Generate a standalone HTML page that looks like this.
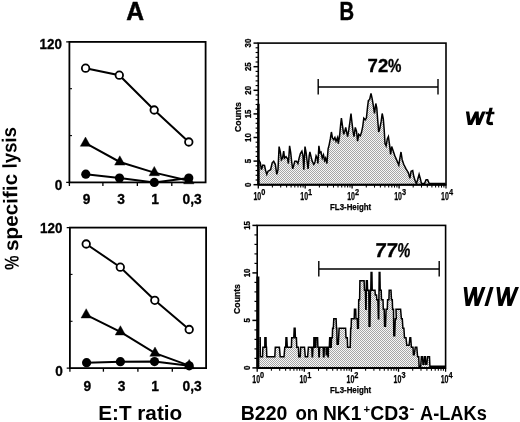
<!DOCTYPE html>
<html><head><meta charset="utf-8"><title>Figure</title>
<style>html,body{margin:0;padding:0;background:#fff;}svg{display:block;will-change:transform;}text{font-family:"Liberation Sans",sans-serif;fill:#000;}.b{font-weight:bold;}</style></head><body>
<svg width="520" height="422" viewBox="0 0 520 422">
<defs><pattern id="dots" x="0" y="0" width="2" height="2" patternUnits="userSpaceOnUse"><rect width="2" height="2" fill="#f8f8f8"/><rect x="0" y="0" width="1" height="1" fill="#a6a6a6"/><rect x="1" y="1" width="1" height="1" fill="#a6a6a6"/></pattern></defs>
<rect width="520" height="422" fill="#fff"/>
<text class="b" x="126.2" y="19.5" font-size="26" textLength="17.8" lengthAdjust="spacingAndGlyphs" stroke="#000" stroke-width="0.5">A</text>
<text class="b" x="339.4" y="19.5" font-size="26" textLength="14.6" lengthAdjust="spacingAndGlyphs" stroke="#000" stroke-width="0.5">B</text>
<text class="b" transform="translate(18.7,269.8) rotate(-91.1)" font-size="20" textLength="14.4" lengthAdjust="spacingAndGlyphs">%</text>
<text class="b" transform="translate(18.3,251.1) rotate(-91.1)" font-size="20" textLength="77.4" lengthAdjust="spacingAndGlyphs">specific</text>
<text class="b" transform="translate(16.7,168.2) rotate(-91.1)" font-size="20" textLength="41.2" lengthAdjust="spacingAndGlyphs">lysis</text>
<rect x="69.4" y="41.9" width="136.2" height="140.5" fill="none" stroke="#000" stroke-width="1.8"/>
<path d="M66.2,41.9 H69.4 M66.2,182.4 H69.4" stroke="#000" stroke-width="1.3"/>
<line x1="69.4" y1="88.7" x2="72.0" y2="88.7" stroke="#000" stroke-width="1.1"/>
<line x1="69.4" y1="135.6" x2="72.0" y2="135.6" stroke="#000" stroke-width="1.1"/>
<line x1="69.4" y1="182.4" x2="69.4" y2="186.0" stroke="#000" stroke-width="1.3"/>
<line x1="102.9" y1="182.4" x2="102.9" y2="186.0" stroke="#000" stroke-width="1.3"/>
<line x1="137.35" y1="182.4" x2="137.35" y2="186.0" stroke="#000" stroke-width="1.3"/>
<line x1="171.8" y1="182.4" x2="171.8" y2="186.0" stroke="#000" stroke-width="1.3"/>
<path d="M85.6,68.2 L119.3,75.2 L154.2,110.0 L188.8,142.0" fill="none" stroke="#000" stroke-width="2"/>
<path d="M85.5,143.2 L119.8,162.0 L154.3,172.6 L188.8,180.7" fill="none" stroke="#000" stroke-width="2"/>
<path d="M85.8,174.2 L119.5,178.0 L154.3,182.4 L188.8,178.0" fill="none" stroke="#000" stroke-width="2"/>
<path d="M85.5,137.0 L90.7,146.3 L80.3,146.3 Z" fill="#000" stroke="#000" stroke-width="0.4" stroke-linejoin="round"/>
<path d="M119.8,155.8 L125.0,165.1 L114.6,165.1 Z" fill="#000" stroke="#000" stroke-width="0.4" stroke-linejoin="round"/>
<path d="M154.3,166.4 L159.5,175.7 L149.1,175.7 Z" fill="#000" stroke="#000" stroke-width="0.4" stroke-linejoin="round"/>
<path d="M188.8,174.5 L194.0,183.8 L183.6,183.8 Z" fill="#000" stroke="#000" stroke-width="0.4" stroke-linejoin="round"/>
<circle cx="85.8" cy="174.2" r="4.6" fill="#000"/>
<circle cx="119.5" cy="178.0" r="4.6" fill="#000"/>
<circle cx="154.3" cy="182.4" r="4.6" fill="#000"/>
<circle cx="188.8" cy="178.0" r="4.6" fill="#000"/>
<circle cx="85.6" cy="68.2" r="3.75" fill="#fff" stroke="#000" stroke-width="1.8"/>
<circle cx="119.3" cy="75.2" r="3.75" fill="#fff" stroke="#000" stroke-width="1.8"/>
<circle cx="154.2" cy="110.0" r="3.75" fill="#fff" stroke="#000" stroke-width="1.8"/>
<circle cx="188.8" cy="142.0" r="3.75" fill="#fff" stroke="#000" stroke-width="1.8"/>
<text class="b" x="61.9" y="48.5" font-size="14.4" text-anchor="end" textLength="22.4" lengthAdjust="spacingAndGlyphs" stroke="#000" stroke-width="0.3">120</text>
<text class="b" x="62.3" y="190.2" font-size="14.4" text-anchor="end" textLength="7.6" lengthAdjust="spacingAndGlyphs" stroke="#000" stroke-width="0.3">0</text>
<text class="b" x="86.7" y="204.4" font-size="13.8" text-anchor="middle" stroke="#000" stroke-width="0.3">9</text>
<text class="b" x="121.2" y="204.4" font-size="13.8" text-anchor="middle" stroke="#000" stroke-width="0.3">3</text>
<text class="b" x="155.0" y="204.4" font-size="13.8" text-anchor="middle" stroke="#000" stroke-width="0.3">1</text>
<text class="b" x="192.1" y="204.4" font-size="13.8" text-anchor="middle" stroke="#000" stroke-width="0.3">0,3</text>
<rect x="69.9" y="227.6" width="136.2" height="140.50000000000003" fill="none" stroke="#000" stroke-width="1.8"/>
<path d="M66.7,227.6 H69.9 M66.7,368.1 H69.9" stroke="#000" stroke-width="1.3"/>
<line x1="69.9" y1="274.4" x2="72.5" y2="274.4" stroke="#000" stroke-width="1.1"/>
<line x1="69.9" y1="321.3" x2="72.5" y2="321.3" stroke="#000" stroke-width="1.1"/>
<line x1="69.9" y1="368.1" x2="69.9" y2="371.70000000000005" stroke="#000" stroke-width="1.3"/>
<line x1="103.4" y1="368.1" x2="103.4" y2="371.70000000000005" stroke="#000" stroke-width="1.3"/>
<line x1="137.9" y1="368.1" x2="137.9" y2="371.70000000000005" stroke="#000" stroke-width="1.3"/>
<line x1="172.3" y1="368.1" x2="172.3" y2="371.70000000000005" stroke="#000" stroke-width="1.3"/>
<path d="M86.2,244.0 L120.3,267.2 L154.8,300.3 L189.2,329.5" fill="none" stroke="#000" stroke-width="2"/>
<path d="M86.2,314.9 L120.4,331.9 L155.0,353.2 L189.2,365.6" fill="none" stroke="#000" stroke-width="2"/>
<path d="M86.6,362.7 L120.4,361.7 L154.5,361.6 L189.2,365.8" fill="none" stroke="#000" stroke-width="2"/>
<path d="M86.2,308.7 L91.4,318.0 L81.0,318.0 Z" fill="#000" stroke="#000" stroke-width="0.4" stroke-linejoin="round"/>
<path d="M120.4,325.7 L125.6,335.0 L115.2,335.0 Z" fill="#000" stroke="#000" stroke-width="0.4" stroke-linejoin="round"/>
<path d="M155.0,347.0 L160.2,356.3 L149.8,356.3 Z" fill="#000" stroke="#000" stroke-width="0.4" stroke-linejoin="round"/>
<path d="M189.2,359.4 L194.4,368.7 L184.0,368.7 Z" fill="#000" stroke="#000" stroke-width="0.4" stroke-linejoin="round"/>
<circle cx="86.6" cy="362.7" r="4.6" fill="#000"/>
<circle cx="120.4" cy="361.7" r="4.6" fill="#000"/>
<circle cx="154.5" cy="361.6" r="4.6" fill="#000"/>
<circle cx="189.2" cy="365.8" r="4.6" fill="#000"/>
<circle cx="86.2" cy="244.0" r="3.75" fill="#fff" stroke="#000" stroke-width="1.8"/>
<circle cx="120.3" cy="267.2" r="3.75" fill="#fff" stroke="#000" stroke-width="1.8"/>
<circle cx="154.8" cy="300.3" r="3.75" fill="#fff" stroke="#000" stroke-width="1.8"/>
<circle cx="189.2" cy="329.5" r="3.75" fill="#fff" stroke="#000" stroke-width="1.8"/>
<text class="b" x="62.5" y="233.3" font-size="14.4" text-anchor="end" textLength="22.4" lengthAdjust="spacingAndGlyphs" stroke="#000" stroke-width="0.3">120</text>
<text class="b" x="62.9" y="375.9" font-size="14.4" text-anchor="end" textLength="7.6" lengthAdjust="spacingAndGlyphs" stroke="#000" stroke-width="0.3">0</text>
<text class="b" x="87.3" y="390.6" font-size="13.8" text-anchor="middle" stroke="#000" stroke-width="0.3">9</text>
<text class="b" x="121.6" y="390.6" font-size="13.8" text-anchor="middle" stroke="#000" stroke-width="0.3">3</text>
<text class="b" x="155.2" y="390.6" font-size="13.8" text-anchor="middle" stroke="#000" stroke-width="0.3">1</text>
<text class="b" x="192.2" y="390.6" font-size="13.8" text-anchor="middle" stroke="#000" stroke-width="0.3">0,3</text>
<text class="b" x="98.2" y="420" font-size="20.2" textLength="84" lengthAdjust="spacingAndGlyphs">E:T ratio</text>
<path d="M259.0,160.4 L259.1,160.4 L260.3,162.8 L261.4,169.7 L262.9,165.1 L264.5,165.4 L265.6,170.5 L266.8,174.3 L268.0,171.2 L270.6,169.7 L272.2,162.8 L273.7,161.2 L275.3,164.3 L276.8,174.3 L278.0,169.7 L279.1,146.6 L280.3,152.0 L281.4,159.7 L282.5,158.1 L283.7,151.2 L284.5,158.1 L286.0,156.6 L287.6,158.9 L288.4,163.5 L289.6,145.8 L290.7,152.7 L291.7,162.0 L292.7,168.9 L293.8,165.1 L294.8,161.2 L296.4,161.2 L297.9,163.5 L299.1,158.1 L300.4,153.5 L301.9,151.2 L303.0,155.8 L303.8,169.7 L305.0,146.6 L306.1,152.7 L307.2,162.0 L308.1,168.9 L309.2,155.8 L309.9,152.0 L311.2,157.4 L312.2,161.2 L313.8,164.3 L315.0,162.0 L316.1,155.8 L317.3,158.1 L317.9,163.5 L318.9,145.8 L319.9,152.7 L321.0,152.0 L322.3,158.1 L323.5,155.0 L324.6,160.4 L325.6,158.1 L326.9,163.5 L328.1,148.9 L329.1,145.1 L330.3,138.9 L331.4,132.0 L332.5,138.2 L333.7,139.7 L334.9,137.4 L336.0,141.2 L337.6,137.4 L338.3,143.6 L339.6,135.8 L340.6,125.1 L341.4,118.1 L342.6,126.6 L343.7,134.3 L344.8,131.2 L345.7,127.4 L346.8,132.8 L347.6,136.6 L348.8,129.7 L349.9,122.0 L351.0,113.5 L351.9,122.0 L353.0,131.2 L354.0,136.6 L355.3,127.4 L356.5,131.2 L357.6,141.2 L358.7,134.3 L360.2,135.8 L361.4,132.8 L362.7,126.6 L363.8,118.1 L365.3,119.7 L366.4,118.1 L367.6,106.6 L368.4,100.4 L369.6,99.6 L371.0,93.5 L372.2,98.9 L373.5,106.6 L374.5,113.5 L375.8,103.5 L376.8,108.1 L377.6,118.9 L378.7,132.0 L379.9,128.1 L381.2,121.2 L382.2,113.5 L383.3,118.9 L384.2,129.7 L385.0,143.6 L386.1,145.9 L387.3,138.9 L388.4,136.6 L389.6,145.0 L390.6,154.3 L391.7,146.6 L393.3,151.2 L394.8,155.8 L396.8,160.4 L398.8,165.1 L399.9,158.1 L401.0,152.0 L402.2,159.7 L403.7,164.3 L406.0,168.9 L408.4,172.8 L409.9,178.2 L411.1,171.2 L412.7,170.5 L413.8,176.6 L415.3,181.2 L416.4,183.6 L417.6,179.7 L419.1,174.3 L420.4,178.9 L421.5,183.6 L424.5,183.6 L426.1,179.7 L427.6,179.7 L429.2,183.6 L431.0,183.6 L445.5,183.6 L445.5,184.7 L259.0,184.7 Z" fill="url(#dots)" stroke="none"/>
<path d="M259.0,160.4 L259.1,160.4 L260.3,162.8 L261.4,169.7 L262.9,165.1 L264.5,165.4 L265.6,170.5 L266.8,174.3 L268.0,171.2 L270.6,169.7 L272.2,162.8 L273.7,161.2 L275.3,164.3 L276.8,174.3 L278.0,169.7 L279.1,146.6 L280.3,152.0 L281.4,159.7 L282.5,158.1 L283.7,151.2 L284.5,158.1 L286.0,156.6 L287.6,158.9 L288.4,163.5 L289.6,145.8 L290.7,152.7 L291.7,162.0 L292.7,168.9 L293.8,165.1 L294.8,161.2 L296.4,161.2 L297.9,163.5 L299.1,158.1 L300.4,153.5 L301.9,151.2 L303.0,155.8 L303.8,169.7 L305.0,146.6 L306.1,152.7 L307.2,162.0 L308.1,168.9 L309.2,155.8 L309.9,152.0 L311.2,157.4 L312.2,161.2 L313.8,164.3 L315.0,162.0 L316.1,155.8 L317.3,158.1 L317.9,163.5 L318.9,145.8 L319.9,152.7 L321.0,152.0 L322.3,158.1 L323.5,155.0 L324.6,160.4 L325.6,158.1 L326.9,163.5 L328.1,148.9 L329.1,145.1 L330.3,138.9 L331.4,132.0 L332.5,138.2 L333.7,139.7 L334.9,137.4 L336.0,141.2 L337.6,137.4 L338.3,143.6 L339.6,135.8 L340.6,125.1 L341.4,118.1 L342.6,126.6 L343.7,134.3 L344.8,131.2 L345.7,127.4 L346.8,132.8 L347.6,136.6 L348.8,129.7 L349.9,122.0 L351.0,113.5 L351.9,122.0 L353.0,131.2 L354.0,136.6 L355.3,127.4 L356.5,131.2 L357.6,141.2 L358.7,134.3 L360.2,135.8 L361.4,132.8 L362.7,126.6 L363.8,118.1 L365.3,119.7 L366.4,118.1 L367.6,106.6 L368.4,100.4 L369.6,99.6 L371.0,93.5 L372.2,98.9 L373.5,106.6 L374.5,113.5 L375.8,103.5 L376.8,108.1 L377.6,118.9 L378.7,132.0 L379.9,128.1 L381.2,121.2 L382.2,113.5 L383.3,118.9 L384.2,129.7 L385.0,143.6 L386.1,145.9 L387.3,138.9 L388.4,136.6 L389.6,145.0 L390.6,154.3 L391.7,146.6 L393.3,151.2 L394.8,155.8 L396.8,160.4 L398.8,165.1 L399.9,158.1 L401.0,152.0 L402.2,159.7 L403.7,164.3 L406.0,168.9 L408.4,172.8 L409.9,178.2 L411.1,171.2 L412.7,170.5 L413.8,176.6 L415.3,181.2 L416.4,183.6 L417.6,179.7 L419.1,174.3 L420.4,178.9 L421.5,183.6 L424.5,183.6 L426.1,179.7 L427.6,179.7 L429.2,183.6 L431.0,183.6 L445.5,183.6" fill="none" stroke="#000" stroke-width="1.5" stroke-linejoin="miter"/>
<rect x="258.3" y="43.1" width="187.7" height="141.6" fill="none" stroke="#000" stroke-width="1.6"/>
<line x1="258.4" y1="103.8" x2="258.4" y2="184.7" stroke="#000" stroke-width="2.5"/>
<line x1="258.3" y1="184.85" x2="446.0" y2="184.85" stroke="#000" stroke-width="2.0"/>
<line x1="253.5" y1="184.7" x2="258.3" y2="184.7" stroke="#000" stroke-width="1.5"/>
<text transform="translate(251.3,184.7) rotate(-90)" font-size="9.6" text-anchor="middle" font-weight="bold" textLength="4.4" lengthAdjust="spacingAndGlyphs" stroke="#000" stroke-width="0.3">0</text>
<line x1="255.6" y1="180.0" x2="258.3" y2="180.0" stroke="#000" stroke-width="1.15"/>
<line x1="255.6" y1="175.3" x2="258.3" y2="175.3" stroke="#000" stroke-width="1.15"/>
<line x1="255.6" y1="170.5" x2="258.3" y2="170.5" stroke="#000" stroke-width="1.15"/>
<line x1="255.6" y1="165.8" x2="258.3" y2="165.8" stroke="#000" stroke-width="1.15"/>
<line x1="253.5" y1="161.1" x2="258.3" y2="161.1" stroke="#000" stroke-width="1.5"/>
<text transform="translate(251.3,161.1) rotate(-90)" font-size="9.6" text-anchor="middle" font-weight="bold" textLength="4.4" lengthAdjust="spacingAndGlyphs" stroke="#000" stroke-width="0.3">5</text>
<line x1="255.6" y1="156.4" x2="258.3" y2="156.4" stroke="#000" stroke-width="1.15"/>
<line x1="255.6" y1="151.7" x2="258.3" y2="151.7" stroke="#000" stroke-width="1.15"/>
<line x1="255.6" y1="146.9" x2="258.3" y2="146.9" stroke="#000" stroke-width="1.15"/>
<line x1="255.6" y1="142.2" x2="258.3" y2="142.2" stroke="#000" stroke-width="1.15"/>
<line x1="253.5" y1="137.5" x2="258.3" y2="137.5" stroke="#000" stroke-width="1.5"/>
<text transform="translate(251.3,137.5) rotate(-90)" font-size="9.6" text-anchor="middle" font-weight="bold" textLength="8.8" lengthAdjust="spacingAndGlyphs" stroke="#000" stroke-width="0.3">10</text>
<line x1="255.6" y1="132.8" x2="258.3" y2="132.8" stroke="#000" stroke-width="1.15"/>
<line x1="255.6" y1="128.1" x2="258.3" y2="128.1" stroke="#000" stroke-width="1.15"/>
<line x1="255.6" y1="123.3" x2="258.3" y2="123.3" stroke="#000" stroke-width="1.15"/>
<line x1="255.6" y1="118.6" x2="258.3" y2="118.6" stroke="#000" stroke-width="1.15"/>
<line x1="253.5" y1="113.9" x2="258.3" y2="113.9" stroke="#000" stroke-width="1.5"/>
<text transform="translate(251.3,113.9) rotate(-90)" font-size="9.6" text-anchor="middle" font-weight="bold" textLength="8.8" lengthAdjust="spacingAndGlyphs" stroke="#000" stroke-width="0.3">15</text>
<line x1="255.6" y1="109.2" x2="258.3" y2="109.2" stroke="#000" stroke-width="1.15"/>
<line x1="255.6" y1="104.5" x2="258.3" y2="104.5" stroke="#000" stroke-width="1.15"/>
<line x1="255.6" y1="99.7" x2="258.3" y2="99.7" stroke="#000" stroke-width="1.15"/>
<line x1="255.6" y1="95.0" x2="258.3" y2="95.0" stroke="#000" stroke-width="1.15"/>
<line x1="253.5" y1="90.3" x2="258.3" y2="90.3" stroke="#000" stroke-width="1.5"/>
<text transform="translate(251.3,90.3) rotate(-90)" font-size="9.6" text-anchor="middle" font-weight="bold" textLength="8.8" lengthAdjust="spacingAndGlyphs" stroke="#000" stroke-width="0.3">20</text>
<line x1="255.6" y1="85.6" x2="258.3" y2="85.6" stroke="#000" stroke-width="1.15"/>
<line x1="255.6" y1="80.9" x2="258.3" y2="80.9" stroke="#000" stroke-width="1.15"/>
<line x1="255.6" y1="76.1" x2="258.3" y2="76.1" stroke="#000" stroke-width="1.15"/>
<line x1="255.6" y1="71.4" x2="258.3" y2="71.4" stroke="#000" stroke-width="1.15"/>
<line x1="253.5" y1="66.7" x2="258.3" y2="66.7" stroke="#000" stroke-width="1.5"/>
<text transform="translate(251.3,66.7) rotate(-90)" font-size="9.6" text-anchor="middle" font-weight="bold" textLength="8.8" lengthAdjust="spacingAndGlyphs" stroke="#000" stroke-width="0.3">25</text>
<line x1="255.6" y1="62.0" x2="258.3" y2="62.0" stroke="#000" stroke-width="1.15"/>
<line x1="255.6" y1="57.3" x2="258.3" y2="57.3" stroke="#000" stroke-width="1.15"/>
<line x1="255.6" y1="52.5" x2="258.3" y2="52.5" stroke="#000" stroke-width="1.15"/>
<line x1="255.6" y1="47.8" x2="258.3" y2="47.8" stroke="#000" stroke-width="1.15"/>
<line x1="253.5" y1="43.1" x2="258.3" y2="43.1" stroke="#000" stroke-width="1.5"/>
<text transform="translate(251.3,43.1) rotate(-90)" font-size="9.6" text-anchor="middle" font-weight="bold" textLength="8.8" lengthAdjust="spacingAndGlyphs" stroke="#000" stroke-width="0.3">30</text>
<text transform="translate(240.9,117.0) rotate(-90)" font-size="9.4" text-anchor="middle" font-weight="bold" textLength="29.8" lengthAdjust="spacingAndGlyphs" stroke="#000" stroke-width="0.25">Counts</text>
<line x1="258.3" y1="184.7" x2="258.3" y2="188.6" stroke="#000" stroke-width="1.3"/>
<line x1="272.4" y1="184.7" x2="272.4" y2="187.6" stroke="#000" stroke-width="1.05"/>
<line x1="280.7" y1="184.7" x2="280.7" y2="187.6" stroke="#000" stroke-width="1.05"/>
<line x1="286.6" y1="184.7" x2="286.6" y2="187.6" stroke="#000" stroke-width="1.05"/>
<line x1="291.1" y1="184.7" x2="291.1" y2="187.6" stroke="#000" stroke-width="1.05"/>
<line x1="294.8" y1="184.7" x2="294.8" y2="187.6" stroke="#000" stroke-width="1.05"/>
<line x1="298.0" y1="184.7" x2="298.0" y2="187.6" stroke="#000" stroke-width="1.05"/>
<line x1="300.7" y1="184.7" x2="300.7" y2="187.6" stroke="#000" stroke-width="1.05"/>
<line x1="303.1" y1="184.7" x2="303.1" y2="187.6" stroke="#000" stroke-width="1.05"/>
<line x1="305.2" y1="184.7" x2="305.2" y2="188.6" stroke="#000" stroke-width="1.3"/>
<line x1="319.4" y1="184.7" x2="319.4" y2="187.6" stroke="#000" stroke-width="1.05"/>
<line x1="327.6" y1="184.7" x2="327.6" y2="187.6" stroke="#000" stroke-width="1.05"/>
<line x1="333.5" y1="184.7" x2="333.5" y2="187.6" stroke="#000" stroke-width="1.05"/>
<line x1="338.0" y1="184.7" x2="338.0" y2="187.6" stroke="#000" stroke-width="1.05"/>
<line x1="341.7" y1="184.7" x2="341.7" y2="187.6" stroke="#000" stroke-width="1.05"/>
<line x1="344.9" y1="184.7" x2="344.9" y2="187.6" stroke="#000" stroke-width="1.05"/>
<line x1="347.6" y1="184.7" x2="347.6" y2="187.6" stroke="#000" stroke-width="1.05"/>
<line x1="350.0" y1="184.7" x2="350.0" y2="187.6" stroke="#000" stroke-width="1.05"/>
<line x1="352.1" y1="184.7" x2="352.1" y2="188.6" stroke="#000" stroke-width="1.3"/>
<line x1="366.3" y1="184.7" x2="366.3" y2="187.6" stroke="#000" stroke-width="1.05"/>
<line x1="374.5" y1="184.7" x2="374.5" y2="187.6" stroke="#000" stroke-width="1.05"/>
<line x1="380.4" y1="184.7" x2="380.4" y2="187.6" stroke="#000" stroke-width="1.05"/>
<line x1="384.9" y1="184.7" x2="384.9" y2="187.6" stroke="#000" stroke-width="1.05"/>
<line x1="388.7" y1="184.7" x2="388.7" y2="187.6" stroke="#000" stroke-width="1.05"/>
<line x1="391.8" y1="184.7" x2="391.8" y2="187.6" stroke="#000" stroke-width="1.05"/>
<line x1="394.5" y1="184.7" x2="394.5" y2="187.6" stroke="#000" stroke-width="1.05"/>
<line x1="396.9" y1="184.7" x2="396.9" y2="187.6" stroke="#000" stroke-width="1.05"/>
<line x1="399.1" y1="184.7" x2="399.1" y2="188.6" stroke="#000" stroke-width="1.3"/>
<line x1="413.2" y1="184.7" x2="413.2" y2="187.6" stroke="#000" stroke-width="1.05"/>
<line x1="421.5" y1="184.7" x2="421.5" y2="187.6" stroke="#000" stroke-width="1.05"/>
<line x1="427.3" y1="184.7" x2="427.3" y2="187.6" stroke="#000" stroke-width="1.05"/>
<line x1="431.9" y1="184.7" x2="431.9" y2="187.6" stroke="#000" stroke-width="1.05"/>
<line x1="435.6" y1="184.7" x2="435.6" y2="187.6" stroke="#000" stroke-width="1.05"/>
<line x1="438.7" y1="184.7" x2="438.7" y2="187.6" stroke="#000" stroke-width="1.05"/>
<line x1="441.5" y1="184.7" x2="441.5" y2="187.6" stroke="#000" stroke-width="1.05"/>
<line x1="443.9" y1="184.7" x2="443.9" y2="187.6" stroke="#000" stroke-width="1.05"/>
<line x1="446.0" y1="184.7" x2="446.0" y2="188.5" stroke="#000" stroke-width="1.2"/>
<text x="253.4" y="199.9" font-size="10.6" font-weight="bold" textLength="7.8" lengthAdjust="spacingAndGlyphs" stroke="#000" stroke-width="0.25">10</text>
<text x="261.2" y="194.6" font-size="8.6" font-weight="bold" textLength="4.1" lengthAdjust="spacingAndGlyphs" stroke="#000" stroke-width="0.25">0</text>
<text x="300.3" y="199.9" font-size="10.6" font-weight="bold" textLength="7.8" lengthAdjust="spacingAndGlyphs" stroke="#000" stroke-width="0.25">10</text>
<text x="308.1" y="194.6" font-size="8.6" font-weight="bold" textLength="4.1" lengthAdjust="spacingAndGlyphs" stroke="#000" stroke-width="0.25">1</text>
<text x="347.2" y="199.9" font-size="10.6" font-weight="bold" textLength="7.8" lengthAdjust="spacingAndGlyphs" stroke="#000" stroke-width="0.25">10</text>
<text x="355.0" y="194.6" font-size="8.6" font-weight="bold" textLength="4.1" lengthAdjust="spacingAndGlyphs" stroke="#000" stroke-width="0.25">2</text>
<text x="394.2" y="199.9" font-size="10.6" font-weight="bold" textLength="7.8" lengthAdjust="spacingAndGlyphs" stroke="#000" stroke-width="0.25">10</text>
<text x="402.0" y="194.6" font-size="8.6" font-weight="bold" textLength="4.1" lengthAdjust="spacingAndGlyphs" stroke="#000" stroke-width="0.25">3</text>
<text x="441.1" y="199.9" font-size="10.6" font-weight="bold" textLength="7.8" lengthAdjust="spacingAndGlyphs" stroke="#000" stroke-width="0.25">10</text>
<text x="448.9" y="194.6" font-size="8.6" font-weight="bold" textLength="4.1" lengthAdjust="spacingAndGlyphs" stroke="#000" stroke-width="0.25">4</text>
<text x="330.0" y="210.0" font-size="9.3" font-weight="bold" textLength="41.2" lengthAdjust="spacingAndGlyphs" stroke="#000" stroke-width="0.25">FL3-Height</text>
<path d="M318.2,79.0 V94.5 M318.2,87.0 H438.0 M438.0,79.0 V94.5" fill="none" stroke="#000" stroke-width="1.4"/>
<g transform="translate(384.5,72.1) skewX(0)" stroke="#000" stroke-width="0.35"><text class="b" x="-16.9" y="0" font-size="18.6" textLength="20.6" lengthAdjust="spacingAndGlyphs">72</text><text class="b" x="3.5" y="0" font-size="18.6" textLength="13.4" lengthAdjust="spacingAndGlyphs">%</text></g>
<path d="M259.4,337.7 L260.2,337.7 L260.3,356.7 L262.5,356.7 L262.9,347.2 L264.8,347.2 L264.9,337.7 L266.0,337.7 L266.2,347.2 L266.5,347.2 L266.8,356.7 L274.8,356.7 L275.3,347.2 L279.4,347.2 L280.2,356.7 L284.0,356.7 L284.8,347.2 L285.7,347.2 L286.0,337.7 L286.8,337.7 L287.3,347.2 L291.4,347.2 L291.7,337.7 L293.8,337.7 L294.2,328.2 L295.1,328.2 L295.4,337.7 L296.4,337.7 L296.8,347.2 L298.4,347.2 L298.8,356.7 L300.2,356.7 L300.7,347.2 L304.5,347.2 L305.3,356.7 L307.6,356.7 L308.4,347.2 L311.8,347.2 L312.2,356.7 L312.5,356.7 L313.0,347.2 L313.8,347.2 L313.9,337.7 L315.2,337.7 L315.3,347.2 L315.8,347.2 L316.1,337.7 L317.6,337.7 L317.9,347.2 L318.6,347.2 L318.9,356.7 L319.3,356.7 L319.6,347.2 L323.2,347.2 L323.5,356.7 L324.0,356.7 L324.3,347.2 L326.1,347.2 L326.3,354.8 L326.6,354.8 L326.7,347.2 L327.8,347.2 L328.0,356.7 L328.3,356.7 L328.4,347.2 L329.3,347.2 L329.7,337.7 L330.6,337.7 L330.7,347.2 L331.2,347.2 L331.5,337.7 L332.3,337.7 L332.6,328.2 L333.3,328.2 L333.8,318.7 L336.1,318.7 L336.5,328.2 L336.8,328.2 L337.1,344.3 L338.3,344.3 L339.1,328.2 L345.6,328.2 L346.0,337.7 L347.3,337.7 L347.6,347.2 L350.2,347.2 L350.7,328.2 L351.1,328.2 L351.4,318.7 L354.2,318.7 L354.5,309.2 L355.7,309.2 L356.0,318.7 L357.3,318.7 L357.6,328.2 L358.4,328.2 L358.7,299.7 L359.6,299.7 L359.9,280.7 L364.1,280.7 L364.5,290.2 L365.4,290.2 L365.8,309.2 L366.1,309.2 L366.4,280.7 L367.3,280.7 L367.6,290.2 L368.8,290.2 L369.1,326.3 L369.9,326.3 L370.4,290.2 L370.8,290.2 L371.1,272.6 L371.9,272.6 L372.2,290.2 L375.0,290.2 L375.3,294.9 L376.5,294.9 L376.8,299.7 L377.9,299.7 L378.4,318.7 L378.7,318.7 L379.2,272.6 L379.9,272.6 L380.2,290.2 L381.2,290.2 L381.5,299.7 L383.0,299.7 L383.3,309.2 L384.2,309.2 L384.6,326.3 L385.5,326.3 L386.1,309.2 L387.3,309.2 L387.6,299.7 L388.9,299.7 L389.2,290.2 L391.0,290.2 L391.5,299.7 L392.3,299.7 L392.6,309.2 L393.5,309.2 L393.8,335.8 L394.7,335.8 L395.3,318.7 L396.3,318.7 L396.0,309.2 L400.6,309.2 L401.4,318.7 L402.3,318.7 L402.9,328.2 L403.9,328.2 L404.5,337.7 L406.0,337.7 L406.8,345.3 L409.1,345.3 L409.9,337.7 L410.7,337.7 L411.4,347.2 L413.0,347.2 L413.4,354.8 L414.2,354.8 L415.3,347.2 L416.8,347.2 L417.6,356.7 L418.7,356.7 L419.1,366.2 L420.7,366.2 L421.4,356.7 L422.5,356.7 L423.0,364.3 L423.9,364.3 L424.5,356.7 L425.4,356.7 L425.8,364.3 L426.8,364.3 L427.6,356.7 L429.5,356.7 L429.9,366.2 L432.2,366.2 L445.0,366.2 L445.0,367.9 L259.4,367.9 Z" fill="url(#dots)" stroke="none"/>
<path d="M259.4,337.7 L260.2,337.7 L260.3,356.7 L262.5,356.7 L262.9,347.2 L264.8,347.2 L264.9,337.7 L266.0,337.7 L266.2,347.2 L266.5,347.2 L266.8,356.7 L274.8,356.7 L275.3,347.2 L279.4,347.2 L280.2,356.7 L284.0,356.7 L284.8,347.2 L285.7,347.2 L286.0,337.7 L286.8,337.7 L287.3,347.2 L291.4,347.2 L291.7,337.7 L293.8,337.7 L294.2,328.2 L295.1,328.2 L295.4,337.7 L296.4,337.7 L296.8,347.2 L298.4,347.2 L298.8,356.7 L300.2,356.7 L300.7,347.2 L304.5,347.2 L305.3,356.7 L307.6,356.7 L308.4,347.2 L311.8,347.2 L312.2,356.7 L312.5,356.7 L313.0,347.2 L313.8,347.2 L313.9,337.7 L315.2,337.7 L315.3,347.2 L315.8,347.2 L316.1,337.7 L317.6,337.7 L317.9,347.2 L318.6,347.2 L318.9,356.7 L319.3,356.7 L319.6,347.2 L323.2,347.2 L323.5,356.7 L324.0,356.7 L324.3,347.2 L326.1,347.2 L326.3,354.8 L326.6,354.8 L326.7,347.2 L327.8,347.2 L328.0,356.7 L328.3,356.7 L328.4,347.2 L329.3,347.2 L329.7,337.7 L330.6,337.7 L330.7,347.2 L331.2,347.2 L331.5,337.7 L332.3,337.7 L332.6,328.2 L333.3,328.2 L333.8,318.7 L336.1,318.7 L336.5,328.2 L336.8,328.2 L337.1,344.3 L338.3,344.3 L339.1,328.2 L345.6,328.2 L346.0,337.7 L347.3,337.7 L347.6,347.2 L350.2,347.2 L350.7,328.2 L351.1,328.2 L351.4,318.7 L354.2,318.7 L354.5,309.2 L355.7,309.2 L356.0,318.7 L357.3,318.7 L357.6,328.2 L358.4,328.2 L358.7,299.7 L359.6,299.7 L359.9,280.7 L364.1,280.7 L364.5,290.2 L365.4,290.2 L365.8,309.2 L366.1,309.2 L366.4,280.7 L367.3,280.7 L367.6,290.2 L368.8,290.2 L369.1,326.3 L369.9,326.3 L370.4,290.2 L370.8,290.2 L371.1,272.6 L371.9,272.6 L372.2,290.2 L375.0,290.2 L375.3,294.9 L376.5,294.9 L376.8,299.7 L377.9,299.7 L378.4,318.7 L378.7,318.7 L379.2,272.6 L379.9,272.6 L380.2,290.2 L381.2,290.2 L381.5,299.7 L383.0,299.7 L383.3,309.2 L384.2,309.2 L384.6,326.3 L385.5,326.3 L386.1,309.2 L387.3,309.2 L387.6,299.7 L388.9,299.7 L389.2,290.2 L391.0,290.2 L391.5,299.7 L392.3,299.7 L392.6,309.2 L393.5,309.2 L393.8,335.8 L394.7,335.8 L395.3,318.7 L396.3,318.7 L396.0,309.2 L400.6,309.2 L401.4,318.7 L402.3,318.7 L402.9,328.2 L403.9,328.2 L404.5,337.7 L406.0,337.7 L406.8,345.3 L409.1,345.3 L409.9,337.7 L410.7,337.7 L411.4,347.2 L413.0,347.2 L413.4,354.8 L414.2,354.8 L415.3,347.2 L416.8,347.2 L417.6,356.7 L418.7,356.7 L419.1,366.2 L420.7,366.2 L421.4,356.7 L422.5,356.7 L423.0,364.3 L423.9,364.3 L424.5,356.7 L425.4,356.7 L425.8,364.3 L426.8,364.3 L427.6,356.7 L429.5,356.7 L429.9,366.2 L432.2,366.2 L445.0,366.2" fill="none" stroke="#000" stroke-width="1.5" stroke-linejoin="miter"/>
<rect x="257.2" y="225.4" width="188.40000000000003" height="142.49999999999997" fill="none" stroke="#000" stroke-width="1.6"/>
<line x1="257.9" y1="276.5" x2="257.9" y2="367.9" stroke="#000" stroke-width="3.0"/>
<line x1="257.2" y1="368.04999999999995" x2="445.6" y2="368.04999999999995" stroke="#000" stroke-width="2.0"/>
<line x1="252.4" y1="367.9" x2="257.2" y2="367.9" stroke="#000" stroke-width="1.5"/>
<text transform="translate(250.2,367.9) rotate(-90)" font-size="9.6" text-anchor="middle" font-weight="bold" textLength="4.4" lengthAdjust="spacingAndGlyphs" stroke="#000" stroke-width="0.3">0</text>
<line x1="254.5" y1="358.4" x2="257.2" y2="358.4" stroke="#000" stroke-width="1.15"/>
<line x1="254.5" y1="348.9" x2="257.2" y2="348.9" stroke="#000" stroke-width="1.15"/>
<line x1="254.5" y1="339.4" x2="257.2" y2="339.4" stroke="#000" stroke-width="1.15"/>
<line x1="254.5" y1="329.9" x2="257.2" y2="329.9" stroke="#000" stroke-width="1.15"/>
<line x1="252.4" y1="320.4" x2="257.2" y2="320.4" stroke="#000" stroke-width="1.5"/>
<text transform="translate(250.2,320.4) rotate(-90)" font-size="9.6" text-anchor="middle" font-weight="bold" textLength="4.4" lengthAdjust="spacingAndGlyphs" stroke="#000" stroke-width="0.3">5</text>
<line x1="254.5" y1="310.9" x2="257.2" y2="310.9" stroke="#000" stroke-width="1.15"/>
<line x1="254.5" y1="301.4" x2="257.2" y2="301.4" stroke="#000" stroke-width="1.15"/>
<line x1="254.5" y1="291.9" x2="257.2" y2="291.9" stroke="#000" stroke-width="1.15"/>
<line x1="254.5" y1="282.4" x2="257.2" y2="282.4" stroke="#000" stroke-width="1.15"/>
<line x1="252.4" y1="272.9" x2="257.2" y2="272.9" stroke="#000" stroke-width="1.5"/>
<text transform="translate(250.2,272.9) rotate(-90)" font-size="9.6" text-anchor="middle" font-weight="bold" textLength="8.8" lengthAdjust="spacingAndGlyphs" stroke="#000" stroke-width="0.3">10</text>
<line x1="254.5" y1="263.4" x2="257.2" y2="263.4" stroke="#000" stroke-width="1.15"/>
<line x1="254.5" y1="253.9" x2="257.2" y2="253.9" stroke="#000" stroke-width="1.15"/>
<line x1="254.5" y1="244.4" x2="257.2" y2="244.4" stroke="#000" stroke-width="1.15"/>
<line x1="254.5" y1="234.9" x2="257.2" y2="234.9" stroke="#000" stroke-width="1.15"/>
<line x1="252.4" y1="225.4" x2="257.2" y2="225.4" stroke="#000" stroke-width="1.5"/>
<text transform="translate(250.2,225.4) rotate(-90)" font-size="9.6" text-anchor="middle" font-weight="bold" textLength="8.8" lengthAdjust="spacingAndGlyphs" stroke="#000" stroke-width="0.3">15</text>
<text transform="translate(239.8,299.0) rotate(-90)" font-size="9.4" text-anchor="middle" font-weight="bold" textLength="29.8" lengthAdjust="spacingAndGlyphs" stroke="#000" stroke-width="0.25">Counts</text>
<line x1="257.2" y1="367.9" x2="257.2" y2="371.8" stroke="#000" stroke-width="1.3"/>
<line x1="271.4" y1="367.9" x2="271.4" y2="370.8" stroke="#000" stroke-width="1.05"/>
<line x1="279.7" y1="367.9" x2="279.7" y2="370.8" stroke="#000" stroke-width="1.05"/>
<line x1="285.6" y1="367.9" x2="285.6" y2="370.8" stroke="#000" stroke-width="1.05"/>
<line x1="290.1" y1="367.9" x2="290.1" y2="370.8" stroke="#000" stroke-width="1.05"/>
<line x1="293.9" y1="367.9" x2="293.9" y2="370.8" stroke="#000" stroke-width="1.05"/>
<line x1="297.0" y1="367.9" x2="297.0" y2="370.8" stroke="#000" stroke-width="1.05"/>
<line x1="299.7" y1="367.9" x2="299.7" y2="370.8" stroke="#000" stroke-width="1.05"/>
<line x1="302.1" y1="367.9" x2="302.1" y2="370.8" stroke="#000" stroke-width="1.05"/>
<line x1="304.3" y1="367.9" x2="304.3" y2="371.8" stroke="#000" stroke-width="1.3"/>
<line x1="318.5" y1="367.9" x2="318.5" y2="370.8" stroke="#000" stroke-width="1.05"/>
<line x1="326.8" y1="367.9" x2="326.8" y2="370.8" stroke="#000" stroke-width="1.05"/>
<line x1="332.7" y1="367.9" x2="332.7" y2="370.8" stroke="#000" stroke-width="1.05"/>
<line x1="337.2" y1="367.9" x2="337.2" y2="370.8" stroke="#000" stroke-width="1.05"/>
<line x1="341.0" y1="367.9" x2="341.0" y2="370.8" stroke="#000" stroke-width="1.05"/>
<line x1="344.1" y1="367.9" x2="344.1" y2="370.8" stroke="#000" stroke-width="1.05"/>
<line x1="346.8" y1="367.9" x2="346.8" y2="370.8" stroke="#000" stroke-width="1.05"/>
<line x1="349.2" y1="367.9" x2="349.2" y2="370.8" stroke="#000" stroke-width="1.05"/>
<line x1="351.4" y1="367.9" x2="351.4" y2="371.8" stroke="#000" stroke-width="1.3"/>
<line x1="365.6" y1="367.9" x2="365.6" y2="370.8" stroke="#000" stroke-width="1.05"/>
<line x1="373.9" y1="367.9" x2="373.9" y2="370.8" stroke="#000" stroke-width="1.05"/>
<line x1="379.8" y1="367.9" x2="379.8" y2="370.8" stroke="#000" stroke-width="1.05"/>
<line x1="384.3" y1="367.9" x2="384.3" y2="370.8" stroke="#000" stroke-width="1.05"/>
<line x1="388.1" y1="367.9" x2="388.1" y2="370.8" stroke="#000" stroke-width="1.05"/>
<line x1="391.2" y1="367.9" x2="391.2" y2="370.8" stroke="#000" stroke-width="1.05"/>
<line x1="393.9" y1="367.9" x2="393.9" y2="370.8" stroke="#000" stroke-width="1.05"/>
<line x1="396.3" y1="367.9" x2="396.3" y2="370.8" stroke="#000" stroke-width="1.05"/>
<line x1="398.5" y1="367.9" x2="398.5" y2="371.8" stroke="#000" stroke-width="1.3"/>
<line x1="412.7" y1="367.9" x2="412.7" y2="370.8" stroke="#000" stroke-width="1.05"/>
<line x1="421.0" y1="367.9" x2="421.0" y2="370.8" stroke="#000" stroke-width="1.05"/>
<line x1="426.9" y1="367.9" x2="426.9" y2="370.8" stroke="#000" stroke-width="1.05"/>
<line x1="431.4" y1="367.9" x2="431.4" y2="370.8" stroke="#000" stroke-width="1.05"/>
<line x1="435.2" y1="367.9" x2="435.2" y2="370.8" stroke="#000" stroke-width="1.05"/>
<line x1="438.3" y1="367.9" x2="438.3" y2="370.8" stroke="#000" stroke-width="1.05"/>
<line x1="441.0" y1="367.9" x2="441.0" y2="370.8" stroke="#000" stroke-width="1.05"/>
<line x1="443.4" y1="367.9" x2="443.4" y2="370.8" stroke="#000" stroke-width="1.05"/>
<line x1="445.6" y1="367.9" x2="445.6" y2="371.7" stroke="#000" stroke-width="1.2"/>
<text x="252.3" y="383.1" font-size="10.6" font-weight="bold" textLength="7.8" lengthAdjust="spacingAndGlyphs" stroke="#000" stroke-width="0.25">10</text>
<text x="260.1" y="377.8" font-size="8.6" font-weight="bold" textLength="4.1" lengthAdjust="spacingAndGlyphs" stroke="#000" stroke-width="0.25">0</text>
<text x="299.4" y="383.1" font-size="10.6" font-weight="bold" textLength="7.8" lengthAdjust="spacingAndGlyphs" stroke="#000" stroke-width="0.25">10</text>
<text x="307.2" y="377.8" font-size="8.6" font-weight="bold" textLength="4.1" lengthAdjust="spacingAndGlyphs" stroke="#000" stroke-width="0.25">1</text>
<text x="346.5" y="383.1" font-size="10.6" font-weight="bold" textLength="7.8" lengthAdjust="spacingAndGlyphs" stroke="#000" stroke-width="0.25">10</text>
<text x="354.3" y="377.8" font-size="8.6" font-weight="bold" textLength="4.1" lengthAdjust="spacingAndGlyphs" stroke="#000" stroke-width="0.25">2</text>
<text x="393.6" y="383.1" font-size="10.6" font-weight="bold" textLength="7.8" lengthAdjust="spacingAndGlyphs" stroke="#000" stroke-width="0.25">10</text>
<text x="401.4" y="377.8" font-size="8.6" font-weight="bold" textLength="4.1" lengthAdjust="spacingAndGlyphs" stroke="#000" stroke-width="0.25">3</text>
<text x="440.7" y="383.1" font-size="10.6" font-weight="bold" textLength="7.8" lengthAdjust="spacingAndGlyphs" stroke="#000" stroke-width="0.25">10</text>
<text x="448.5" y="377.8" font-size="8.6" font-weight="bold" textLength="4.1" lengthAdjust="spacingAndGlyphs" stroke="#000" stroke-width="0.25">4</text>
<text x="330.0" y="393.2" font-size="9.3" font-weight="bold" textLength="41.2" lengthAdjust="spacingAndGlyphs" stroke="#000" stroke-width="0.25">FL3-Height</text>
<path d="M318.8,261.0 V276.5 M318.8,269.0 H439.2 M439.2,261.0 V276.5" fill="none" stroke="#000" stroke-width="1.4"/>
<g transform="translate(391.2,257.1) skewX(-6)" stroke="#000" stroke-width="0.35"><text class="b" x="-16.9" y="0" font-size="20.0" textLength="22.6" lengthAdjust="spacingAndGlyphs">77</text><text class="b" x="5.5" y="0" font-size="20.0" textLength="13.0" lengthAdjust="spacingAndGlyphs">%</text></g>
<clipPath id="wtc"><rect x="455" y="111.6" width="65" height="13.5"/></clipPath>
<g clip-path="url(#wtc)" fill="none" stroke="#000" stroke-width="3.3" stroke-miterlimit="12" stroke-linejoin="miter"><path d="M467.35,110 L469.7,126.2 L477.0,111.0 L477.7,126.2 L484.4,110.2"/></g>
<clipPath id="wtt"><rect x="455" y="107.8" width="65" height="18"/></clipPath>
<g clip-path="url(#wtt)" fill="none" stroke="#000" stroke-linejoin="round"><path d="M491.4,106.5 L488.0,120.6 Q487.3,123.7 490.2,123.7 L492.9,123.3" stroke-width="3.2"/><path d="M485.6,113.0 H494.4" stroke-width="2.6"/></g>
<clipPath id="wwc"><rect x="455" y="287.1" width="65" height="18.9"/></clipPath>
<g clip-path="url(#wwc)" fill="none" stroke="#000" stroke-width="3.4" stroke-miterlimit="12" stroke-linejoin="miter"><path d="M465.2,285.5 L467.5,307.2 L475.1,286.2 L476.3,307.2 L484.2,285.8"/><path d="M485.8,307.2 L492.2,285.8"/><path d="M498.0,285.5 L500.3,307.2 L507.9,286.2 L509.1,307.2 L517.6,285.8"/></g>
<text class="b" x="240.8" y="419.5" font-size="20" textLength="46.6" lengthAdjust="spacingAndGlyphs">B220</text>
<text class="b" x="295.4" y="419.5" font-size="20" textLength="22.8" lengthAdjust="spacingAndGlyphs">on</text>
<text class="b" x="323.0" y="419.5" font-size="20" textLength="38.4" lengthAdjust="spacingAndGlyphs">NK1</text>
<text class="b" x="363.6" y="412.6" font-size="11.5" textLength="6.6" lengthAdjust="spacingAndGlyphs">+</text>
<text class="b" x="370.3" y="419.5" font-size="20" textLength="38.8" lengthAdjust="spacingAndGlyphs">CD3</text>
<text class="b" x="409.4" y="412.6" font-size="13" textLength="4.9" lengthAdjust="spacingAndGlyphs">-</text>
<text class="b" x="420.0" y="419.5" font-size="20" textLength="66.8" lengthAdjust="spacingAndGlyphs">A-LAKs</text>
</svg></body></html>
